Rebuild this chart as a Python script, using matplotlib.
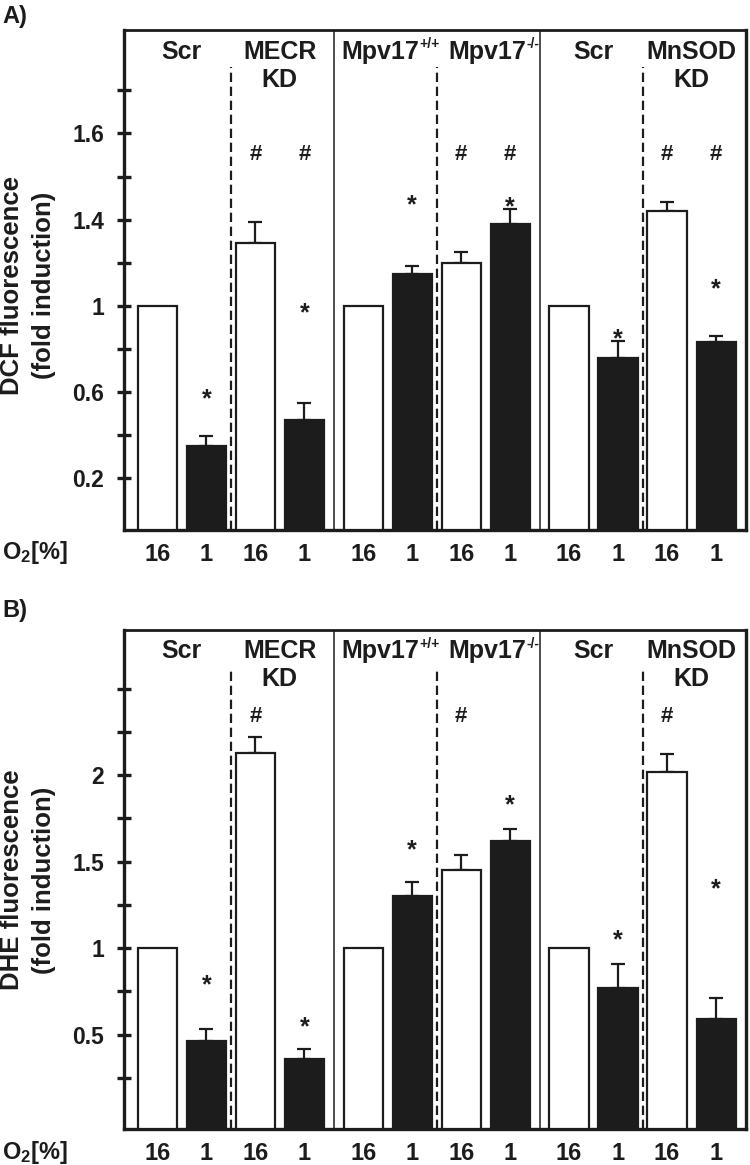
import matplotlib.pyplot as plt
import matplotlib.transforms as mtransforms
import numpy as np

plt.rcParams['font.family'] = ['Liberation Sans', 'DejaVu Sans']
plt.rcParams['font.weight'] = 'bold'
plt.rcParams['mathtext.fontset'] = 'custom'
plt.rcParams['mathtext.rm'] = 'Liberation Sans:bold'
plt.rcParams['mathtext.it'] = 'Liberation Sans:bold'
plt.rcParams['mathtext.bf'] = 'Liberation Sans:bold'

INK = '#1c1c1c'

# --- data -------------------------------------------------------------
o2_labels = ['16', '1'] * 6
x = np.array([0, 1, 2, 3, 4.2, 5.2, 6.2, 7.2, 8.4, 9.4, 10.4, 11.4])
# (main text, superscript) for every group of two bars
headers = [("Scr", ""), ("MECR\nKD", ""), ("Mpv17", "+/+"), ("Mpv17", "-/-"),
           ("Scr", ""), ("MnSOD\nKD", "")]

dcf = [1.0, 0.35, 1.29, 0.47, 1.0, 1.15, 1.20, 1.38, 1.0, 0.76, 1.44, 0.83]
dcf_err = [0, 0.045, 0.10, 0.08, 0, 0.035, 0.05, 0.07, 0, 0.075, 0.04, 0.03]
dcf_star = [None, 0.60, None, 1.0, None, 1.50, None, 1.49, None, 0.88, None, 1.11]
dcf_hash = [None, None, 1.715, 1.715, None, None, 1.715, 1.715, None, None, 1.715, 1.715]
dcf_ticks = [0.2, 0.4, 0.6, 0.8, 1.0, 1.2, 1.4, 1.6, 1.8, 2.0]
dcf_ticklabels = ['0.2', '', '0.6', '', '1', '', '1.4', '', '1.6', '']

dhe = [1.0, 0.46, 2.13, 0.36, 1.0, 1.30, 1.45, 1.62, 1.0, 0.77, 2.02, 0.59]
dhe_err = [0, 0.07, 0.087, 0.058, 0, 0.08, 0.085, 0.07, 0, 0.14, 0.10, 0.12]
dhe_star = [None, 0.83, None, 0.585, None, 1.61, None, 1.87, None, 1.09, None, 1.38]
dhe_hash = [None, None, 2.35, None, None, None, 2.35, None, None, None, 2.35, None]
dhe_ticks = [0.25, 0.5, 0.75, 1.0, 1.25, 1.5, 1.75, 2.0, 2.25, 2.5]
dhe_ticklabels = ['', '0.5', '', '1', '', '1.5', '', '2', '', '']


def draw_panel(ax, vals, errs, stars, hashes, ticks, ticklabels, ylim):
    y0 = ylim[0]
    vals = np.array(vals)
    colors = ['white' if lab == '16' else INK for lab in o2_labels]
    ax.bar(x, vals - y0, bottom=y0, width=0.8, color=colors,
           edgecolor=INK, linewidth=1.6, zorder=3)
    errs = np.array(errs)
    m = errs > 0
    ax.errorbar(x[m], vals[m], yerr=[np.zeros(m.sum()), errs[m]], fmt='none',
                ecolor=INK, elinewidth=1.6, capsize=4.7, capthick=1.6, zorder=2)

    # significance marks
    for xi, s in zip(x, stars):
        if s is not None:
            ax.annotate('*', (xi, s), xytext=(0, -0.58 * 18), textcoords='offset points',
                        ha='center', va='baseline', fontsize=18, color=INK)
    for xi, h in zip(x, hashes):
        if h is not None:
            ax.annotate('#', (xi, h), xytext=(0, -0.36 * 16), textcoords='offset points',
                        ha='center', va='baseline', fontsize=16, color=INK)

    # group dividers
    for xd in [1.5, 5.7, 9.9]:
        ax.axvline(xd, ymin=0, ymax=0.926, color=INK, lw=1.6,
                   linestyle=(0, (4.2, 2.1)), zorder=1)
    for xd in [3.6, 7.8]:
        ax.axvline(xd, color=INK, lw=1.1, zorder=1)

    # group headers
    trans = mtransforms.blended_transform_factory(ax.transData, ax.transAxes)
    sup_shift = {2: 0.64, 3: 0.82}
    for i, (head, sup) in enumerate(headers):
        mid = (x[2 * i] + x[2 * i + 1]) / 2
        if sup:
            xa = mid + sup_shift[i]
            ax.text(xa, 0.943, head, transform=trans, ha='right',
                    va='baseline', fontsize=18, color=INK)
            ax.annotate(sup, (xa, 0.943), xycoords=trans, xytext=(0.5, 7.5),
                        textcoords='offset points', ha='left', va='baseline',
                        fontsize=10, color=INK)
            continue
        for j, line in enumerate(head.split('\n')):
            ax.text(mid, 0.943 - 0.056 * j, line, transform=trans, ha='center',
                    va='baseline', fontsize=18, color=INK)

    ax.set_xlim(-0.68, 12.01)
    ax.set_ylim(*ylim)
    ax.set_yticks(ticks, ticklabels)
    ax.set_xticks(x, o2_labels)
    ax.tick_params(axis='x', length=0, pad=9.5, labelsize=17, colors=INK)
    ax.tick_params(axis='y', direction='inout', length=10.5, width=2.4,
                   pad=9, labelsize=16.5, colors=INK)
    for side in ['left', 'bottom', 'right', 'top']:
        ax.spines[side].set_linewidth(2.4)
        ax.spines[side].set_color(INK)
    ax.spines['top'].set_linewidth(2.0)


fig = plt.figure(figsize=(7.5, 11.65), dpi=100)
ax1 = fig.add_axes([0.1653, 0.5451, 0.8294, 0.4291])
ax2 = fig.add_axes([0.1653, 0.0309, 0.8294, 0.4283])

draw_panel(ax1, dcf, dcf_err, dcf_star, dcf_hash, dcf_ticks, dcf_ticklabels, (-0.04, 2.28))
draw_panel(ax2, dhe, dhe_err, dhe_star, dhe_hash, dhe_ticks, dhe_ticklabels, (-0.046, 2.838))

fig.text(0.0376, 1 - 285 / 1165, 'DCF fluorescence\n(fold induction)', rotation=90,
         ha='center', va='center', multialignment='center', fontsize=18.5,
         linespacing=1.4, color=INK)
fig.text(0.0376, 1 - 880 / 1165, 'DHE fluorescence\n(fold induction)', rotation=90,
         ha='center', va='center', multialignment='center', fontsize=18.5,
         linespacing=1.4, color=INK)

fig.text(0.003, 1 - 5 / 1165, 'A)', ha='left', va='top', fontsize=17, color=INK)
fig.text(0.003, 1 - 599 / 1165, 'B)', ha='left', va='top', fontsize=17, color=INK)
fig.text(0.003, 1 - 552 / 1165, 'O$_2$[%]', ha='left', va='center', fontsize=17, color=INK)
fig.text(0.003, 1 - 1152 / 1165, 'O$_2$[%]', ha='left', va='center', fontsize=17, color=INK)

fig.savefig('out.png', dpi=100)
